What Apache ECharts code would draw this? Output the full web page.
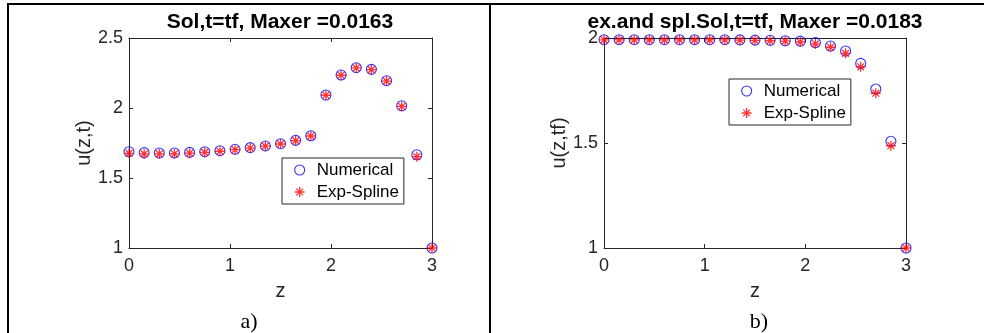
<!DOCTYPE html>
<html>
<head>
<meta charset="utf-8">
<script src="https://cdn.jsdelivr.net/npm/echarts@6/dist/echarts.min.js"></script>
<style>
html,body{margin:0;padding:0;background:#fff;}
#chart{width:984px;height:333px;}
</style>
</head>
<body>
<div id="chart"></div>
<script>
// ---- data ----
const zValues = [0, 0.15, 0.3, 0.45, 0.6, 0.75, 0.9, 1.05, 1.2, 1.35, 1.5, 1.65, 1.8, 1.95, 2.1, 2.25, 2.4, 2.55, 2.7, 2.85, 3];
const numericalA = [1.688, 1.681, 1.679, 1.679, 1.683, 1.688, 1.695, 1.705, 1.717, 1.729, 1.745, 1.769, 1.802, 2.093, 2.236, 2.288, 2.276, 2.195, 2.016, 1.666, 1.0];
const splineA    = [1.676, 1.672, 1.672, 1.673, 1.677, 1.683, 1.691, 1.702, 1.714, 1.727, 1.743, 1.767, 1.800, 2.091, 2.234, 2.286, 2.274, 2.192, 2.011, 1.652, 1.0];
const numericalB = [1.992, 1.992, 1.992, 1.992, 1.992, 1.992, 1.992, 1.992, 1.992, 1.991, 1.990, 1.989, 1.987, 1.985, 1.978, 1.962, 1.938, 1.879, 1.757, 1.508, 1.0];
const splineB    = [1.991, 1.991, 1.991, 1.991, 1.991, 1.991, 1.991, 1.991, 1.991, 1.990, 1.989, 1.987, 1.985, 1.981, 1.972, 1.956, 1.927, 1.863, 1.737, 1.487, 1.0];
const xTicks = [0, 1, 2, 3];
const yTicksA = [1, 1.5, 2, 2.5];
const yTicksB = [1, 1.5, 2];
const titleA = 'Sol,t=tf, Maxer =0.0163';
const titleB = 'ex.and spl.Sol,t=tf, Maxer =0.0183';
const yNameA = 'u(z,t)';
const yNameB = 'u(z,tf)';
const xName = 'z';
const captionA = 'a)';
const captionB = 'b)';
const seriesNames = ['Numerical', 'Exp-Spline'];

// ---- styling ----
const AX = '#262626';
const FONT = '"Liberation Sans", Arial, sans-serif';
const STAR = 'path://M5,0L5,10M0,5L10,5M1.6,1.6L8.4,8.4M1.6,8.4L8.4,1.6';

function pairs(xs, ys) { return xs.map((x, i) => [x, ys[i]]); }

const grids = [
  {left: 129, top: 38, width: 303, height: 210, show: false},
  {left: 604, top: 38, width: 302, height: 210, show: false}
];

function xAxisPair(gi) {
  const base = {
    gridIndex: gi, type: 'value', min: 0, max: 3, interval: 1,
    axisLine: {show: true, onZero: false, lineStyle: {color: AX, width: 1}},
    axisTick: {show: true, inside: true, length: 4, lineStyle: {color: AX}},
    splitLine: {show: false}
  };
  return [
    Object.assign({}, base, {
      position: 'bottom',
      axisLabel: {show: true, color: AX, fontFamily: FONT, fontSize: 18, margin: 9,
        formatter: v => xTicks.includes(v) ? String(v) : ''},
      name: xName, nameLocation: 'middle', nameGap: 33,
      nameTextStyle: {color: AX, fontFamily: FONT, fontSize: 20}
    }),
    Object.assign({}, base, {position: 'top', axisLabel: {show: false}})
  ];
}
function yAxisPair(gi, max, ticks, nm, gap) {
  const base = {
    gridIndex: gi, type: 'value', min: 1, max: max, interval: 0.5,
    axisLine: {show: true, onZero: false, lineStyle: {color: AX, width: 1}},
    axisTick: {show: true, inside: true, length: 4, lineStyle: {color: AX}},
    splitLine: {show: false}
  };
  return [
    Object.assign({}, base, {
      position: 'left',
      axisLabel: {show: true, color: AX, fontFamily: FONT, fontSize: 18, margin: 6,
        formatter: v => ticks.includes(v) ? String(v) : ''},
      name: nm, nameLocation: 'middle', nameGap: gap, nameRotate: 90,
      nameTextStyle: {color: AX, fontFamily: FONT, fontSize: 20}
    }),
    Object.assign({}, base, {position: 'right', axisLabel: {show: false}})
  ];
}

const xAxes = [...xAxisPair(0), ...xAxisPair(1)];
const yAxes = [...yAxisPair(0, 2.5, yTicksA, yNameA, 33), ...yAxisPair(1, 2, yTicksB, yNameB, 35)];

function circleSeries(xi, yi, data) {
  return {
    name: seriesNames[0], type: 'scatter', xAxisIndex: xi, yAxisIndex: yi,
    data: data, symbol: 'circle', symbolSize: 10, clip: false, silent: true,
    itemStyle: {color: 'rgba(0,0,0,0)', borderColor: '#0000ff', borderWidth: 1.1},
    emphasis: {disabled: true}, z: 2
  };
}
function starSeries(xi, yi, data) {
  return {
    name: seriesNames[1], type: 'scatter', xAxisIndex: xi, yAxisIndex: yi,
    data: data, symbol: STAR, symbolSize: 10, clip: false, silent: true,
    itemStyle: {color: 'rgba(0,0,0,0)', borderColor: '#ff0000', borderWidth: 1.3},
    emphasis: {disabled: true}, z: 3
  };
}

const legendData = [
  {name: seriesNames[0], icon: 'circle', itemStyle: {color: 'rgba(0,0,0,0)', borderColor: '#0000ff', borderWidth: 1.1}},
  {name: seriesNames[1], icon: STAR, itemStyle: {color: 'rgba(0,0,0,0)', borderColor: '#ff0000', borderWidth: 1.3}}
];
function legendAt(left, top) {
  return {
    data: legendData, orient: 'vertical', left: left, top: top,
    itemWidth: 24, itemHeight: 10, itemGap: 2, selectedMode: false,
    padding: [2, 5, 2, 12], borderColor: AX, borderWidth: 1, backgroundColor: '#fff',
    textStyle: {color: '#000', fontFamily: FONT, fontSize: 17, lineHeight: 20}
  };
}

const chart = echarts.init(document.getElementById('chart'));
chart.setOption({
  animation: false,
  backgroundColor: '#fff',
  grid: grids,
  xAxis: xAxes,
  yAxis: yAxes,
  legend: [legendAt(282, 158), legendAt(729, 79)],
  series: [
    circleSeries(0, 0, pairs(zValues, numericalA)),
    starSeries(0, 0, pairs(zValues, splineA)),
    circleSeries(2, 2, pairs(zValues, numericalB)),
    starSeries(2, 2, pairs(zValues, splineB))
  ],
  graphic: [
    {type: 'line', shape: {x1: 7, y1: 4, x2: 984, y2: 4}, style: {stroke: '#000', lineWidth: 2}},
    {type: 'line', shape: {x1: 8, y1: 3, x2: 8, y2: 333}, style: {stroke: '#000', lineWidth: 2}},
    {type: 'line', shape: {x1: 490, y1: 3, x2: 490, y2: 333}, style: {stroke: '#000', lineWidth: 2}},
    {type: 'text', x: 280, y: 22, style: {text: titleA, fill: '#000', font: 'bold 21px ' + FONT, align: 'center', verticalAlign: 'middle'}},
    {type: 'text', x: 755, y: 22, style: {text: titleB, fill: '#000', font: 'bold 21px ' + FONT, align: 'center', verticalAlign: 'middle'}},
    {type: 'text', x: 249, y: 322, style: {text: captionA, fill: '#000', font: '22px "Liberation Serif", "Times New Roman", serif', align: 'center', verticalAlign: 'middle'}},
    {type: 'text', x: 759, y: 322, style: {text: captionB, fill: '#000', font: '22px "Liberation Serif", "Times New Roman", serif', align: 'center', verticalAlign: 'middle'}}
  ]
});
</script>
</body>
</html>
